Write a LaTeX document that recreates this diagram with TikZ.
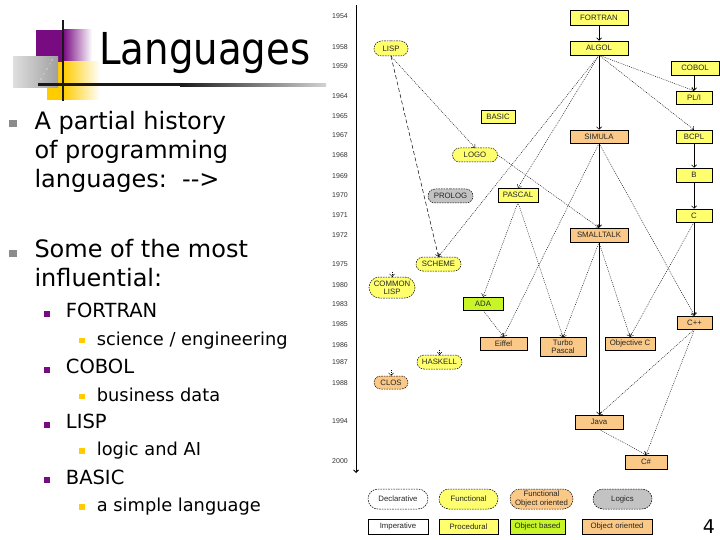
\documentclass[tikz,border=0pt]{standalone}
\usepackage{fontspec}
\setmainfont{DejaVu Sans}
\newfontfamily\arialf{Liberation Sans}
\usetikzlibrary{arrows.meta,shapes.misc}
\definecolor{nyel}{RGB}{255,255,110}
\definecolor{norg}{RGB}{250,200,135}
\definecolor{ngrn}{RGB}{200,245,40}
\definecolor{ngry}{RGB}{195,195,195}
\definecolor{lpurp}{RGB}{120,10,130}
\definecolor{lgold}{RGB}{255,204,0}
\definecolor{bgray}{RGB}{140,140,140}
\begin{document}
\begin{tikzpicture}[x=1pt,y=-1pt,
  lang/.style={font=\arialf\fontsize{7.8}{8.2}\selectfont, inner sep=0pt, text=black!85, align=center},
  rbox/.style={lang, rectangle, draw=black, line width=0.5pt},
  pill/.style={lang, rounded rectangle, draw=black, line width=0.5pt, dash pattern=on 1.6pt off 1pt},
  ylw/.style={fill=nyel}, org/.style={fill=norg}, grn/.style={fill=ngrn}, gry/.style={fill=ngry},
  sz/.style 2 args={minimum width=#1pt, minimum height=#2pt},
  tip/.style={-{Straight Barb[length=2.5pt,width=5pt]}},
  inh/.style={tip, line width=0.7pt},
  infl/.style={tip, line width=0.45pt, dash pattern=on 0.9pt off 1.1pt},
  infd/.style={tip, line width=0.5pt, dash pattern=on 4pt off 2.5pt},
  yr/.style={anchor=east, inner sep=0pt, font=\arialf\fontsize{7}{8}\selectfont, text=black!80},
  txa/.style={anchor=base west, inner sep=0pt, font=\fontsize{24}{29}\selectfont},
  txb/.style={anchor=base west, inner sep=0pt, font=\fontsize{19.5}{23}\selectfont},
  txc/.style={anchor=base west, inner sep=0pt, font=\fontsize{17.8}{21}\selectfont}
]
\useasboundingbox (0,0) rectangle (720,540);
\fill[white] (0,0) rectangle (720,540);

% ---- logo ----
\fill[lpurp] (36,30) rectangle (63,62);
\shade[left color=lpurp, right color=white] (63,30) rectangle (92,62);
\fill[lgold] (47,62) rectangle (63,100);
\shade[left color=lgold, right color=white] (63,62) rectangle (100,100);
\shade[left color=gray!25, right color=gray!75] (13,57) rectangle (58,88);
\fill[white] (52,60) circle (0.6) (50,64) circle (0.5) (47,69) circle (0.6) (44,74) circle (0.5) (41,79) circle (0.6);
\fill[black!90] (38,83.5) rectangle (180,86.5);
\shade[left color=black!90, right color=gray!35] (180,83.5) rectangle (326,86.5);
\draw[line width=2pt, black!90] (63,20) -- (63,101);
\node[anchor=base west, inner sep=0pt] (title) at (99,65) {\scalebox{0.88}[1]{\fontsize{44}{50}\selectfont Languages}};

% ---- bullets text ----
\fill[bgray] (8.5,120.5) rectangle (16.5,127.5);
\node[txa] (t1) at (34.3,130) {A partial history};
\node[txa] (t2) at (34.3,159) {of programming};
\node[txa] (t3) at (34.3,188) {languages:\ \ {-}{-}>};
\fill[bgray] (8.5,249.5) rectangle (16.5,256.5);
\node[txa] (t4) at (34.3,257.3) {Some of the most};
\node[txa] (t5) at (34.3,286.7) {influential:};
\foreach \b/\s/\lab/\sub in {317.3/345/FORTRAN/{science / engineering}, 373.3/401/COBOL/{business data}, 428.3/455.7/LISP/{logic and AI}, 484/511.7/BASIC/{a simple language}}{
  \fill[lpurp] (43.5,\b-6.6) rectangle (50,\b-0.6);
  \node[txb] at (65.7,\b) {\lab};
  \fill[lgold] (79.3,\s-7.3) rectangle (85,\s-1.7);
  \node[txc] at (96.7,\s) {\sub};
}

% ---- timeline ----
\coordinate (tTop) at (356,5);
\coordinate (tBot) at (356,473);
\draw[inh, line width=0.9pt] (tTop) -- (tBot);
\foreach \y/\t in {16/1954,47/1958,66/1959,96/1964,116/1965,135/1967,155/1968,176/1969,195/1970,215/1971,235/1972,264/1975,285/1980,304/1983,324/1985,345/1986,362/1987,383/1988,421/1994,461/2000}
  \node[yr] (y\t) at (348,\y) {\t};

% ---- language nodes ----
\node[rbox, ylw, sz={58}{15}] (FORTRAN) at (599,17.5) {FORTRAN};
\node[rbox, ylw, sz={58}{14}] (ALGOL) at (599,48) {ALGOL};
\node[pill, ylw, sz={34}{15}] (LISP) at (391,48.5) {LISP};
\node[rbox, ylw, sz={48}{14}] (COBOL) at (695,68) {COBOL};
\node[rbox, ylw, sz={36}{13}] (PLI) at (694,97.5) {PL/I};
\node[rbox, ylw, sz={34}{13}] (BASIC) at (498,116.5) {BASIC};
\node[rbox, org, sz={58}{13}] (SIMULA) at (599,136.5) {SIMULA};
\node[rbox, ylw, sz={36}{13}] (BCPL) at (694,136.5) {BCPL};
\node[pill, ylw, sz={45}{14}] (LOGO) at (475,155) {LOGO};
\node[rbox, ylw, sz={36}{14}] (B) at (694,175) {B};
\node[pill, gry, sz={45}{14}] (PROLOG) at (450.5,196) {PROLOG};
\node[rbox, ylw, sz={40}{14}] (PASCAL) at (518,195) {PASCAL};
\node[rbox, ylw, sz={36}{13}] (C) at (694,215.5) {C};
\node[rbox, org, sz={58}{14}] (SMALLTALK) at (599,235) {SMALLTALK};
\node[pill, ylw, sz={45}{14}] (SCHEME) at (438.5,264) {SCHEME};
\node[pill, ylw, sz={46}{21}] (CLISP) at (392,287.5) {COMMON\\LISP};
\node[rbox, grn, sz={40}{13}] (ADA) at (483,303.5) {ADA};
\node[rbox, org, sz={35}{13}] (CPP) at (694.5,322.5) {C++};
\node[rbox, org, sz={47}{13}] (EIFFEL) at (503.5,343.5) {Eiffel};
\node[rbox, org, sz={46}{19}] (TURBO) at (563,347) {Turbo\\Pascal};
\node[rbox, org, sz={50}{13}] (OBJC) at (630,343.5) {Objective C};
\node[pill, ylw, sz={45}{14}] (HASKELL) at (439.5,362) {HASKELL};
\node[pill, org, sz={34}{13}] (CLOS) at (391,382.5) {CLOS};
\node[rbox, org, sz={48}{14}] (JAVA) at (599,422) {Java};
\node[rbox, org, sz={42}{14}] (CSHARP) at (646,462) {C\#};

% ---- legend ----
\node[pill, fill=white, sz={60}{20}] (LDECL) at (398,499) {Declarative};
\node[pill, ylw, sz={59}{20}] (LFUNC) at (468.5,499) {Functional};
\node[pill, org, sz={63}{20}] (LFOO) at (541.5,499) {Functional\\Object oriented};
\node[pill, gry, sz={59}{20}] (LLOG) at (622.5,499) {Logics};
\node[rbox, fill=white, sz={60}{15}] (LIMP) at (398,526.5) {Imperative};
\node[rbox, ylw, sz={59}{15}] (LPROC) at (468.5,526.5) {Procedural};
\node[rbox, grn, sz={55}{15}] (LOB) at (537.5,526.5) {Object based};
\node[rbox, org, sz={70}{15}] (LOO) at (617,526.5) {Object oriented};

\node[anchor=base, inner sep=0pt, font=\fontsize{19}{22}\selectfont] (pnum) at (709,533) {4};

% ---- solid inheritance ----
\draw[inh] (FORTRAN) -- (ALGOL);
\draw[inh] (ALGOL) -- (SIMULA);
\draw[inh] (SIMULA) -- (SMALLTALK);
\draw[inh] (SMALLTALK) -- (JAVA);
\draw[inh] (COBOL.south -| PLI.north) -- (PLI.north);
\draw[inh] (BCPL) -- (B);
\draw[inh] (B) -- (C);
\draw[inh] (C) -- (CPP.north -| C.south);

% ---- influences ----
\draw[infl] (ALGOL.south) -- (PLI.north);
\draw[infl] (ALGOL.south) -- (BCPL.north);
\draw[infl] (ALGOL.south) -- (PASCAL.north);
\draw[infl] (ALGOL.south) -- (SCHEME.north);
\draw[infl] (LISP.south) -- (LOGO.north);
\draw[infd] (LISP.south) -- (SCHEME.north);
\draw[infl] (LOGO.east) -- (SMALLTALK.north);
\draw[infl] (PASCAL.south) -- (ADA.north);
\draw[infl] (PASCAL.south) -- (TURBO.north);
\draw[infl] (SIMULA.south) -- (EIFFEL.north);
\draw[infl] (SIMULA.south) -- (CPP.north);
\draw[infl] (ADA.south) -- (EIFFEL.north);
\draw[infl] (SMALLTALK.south) -- (TURBO.north);
\draw[infl] (SMALLTALK.south) -- (OBJC.north);
\draw[infl] (C.south) -- (OBJC.north);
\draw[infl] (CPP.south) -- (JAVA.north);
\draw[infl] (CPP.south) -- (CSHARP.north);
\draw[infl] (JAVA.south) -- (CSHARP.north);

\coordinate (clIn) at (392,271.5);
\coordinate (hsIn) at (439.5,349.5);
\coordinate (coIn) at (391,370);
\draw[infl] (clIn) -- (CLISP.north);
\draw[infl] (hsIn) -- (HASKELL.north);
\draw[infl] (coIn) -- (CLOS.north);
\end{tikzpicture}
\end{document}
